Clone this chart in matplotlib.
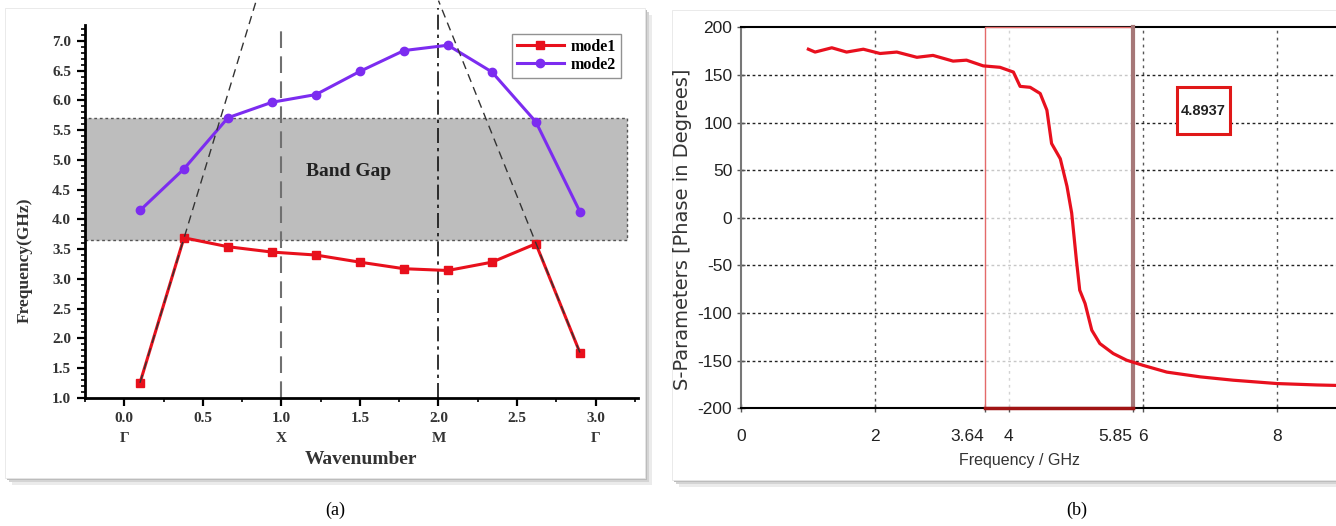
import numpy as np
import matplotlib
matplotlib.use('Agg')
import matplotlib.pyplot as plt
from matplotlib.patches import Rectangle
from matplotlib.ticker import MultipleLocator

# panel (a): dispersion diagram
wavenumber = [0.10, 0.38, 0.66, 0.94, 1.22, 1.50, 1.78, 2.06, 2.34, 2.62, 2.90]
mode1 = [1.25, 3.69, 3.54, 3.45, 3.40, 3.28, 3.17, 3.14, 3.28, 3.59, 1.76]
mode2 = [4.15, 4.85, 5.71, 5.97, 6.10, 6.49, 6.84, 6.93, 6.48, 5.64, 4.13]
gap_low, gap_high = 3.66, 5.71
k_ticks = [0.0, 0.5, 1.0, 1.5, 2.0, 2.5, 3.0]
k_labels = ['0.0\nΓ', '0.5', '1.0\nX', '1.5', '2.0\nM', '2.5', '3.0\nΓ']
f_ticks = [1.0, 1.5, 2.0, 2.5, 3.0, 3.5, 4.0, 4.5, 5.0, 5.5, 6.0, 6.5, 7.0]
light_left_x = [0.10, 0.84]
light_left_y = [1.25, 7.68]
light_right_x = [2.90, 2.00]
light_right_y = [1.76, 7.68]

# panel (b): S-parameter phase
freq = [1.01, 1.11, 1.36, 1.58, 1.83, 2.08, 2.33, 2.63, 2.87, 3.17, 3.37, 3.62,
        3.87, 4.07, 4.17, 4.32, 4.47, 4.57, 4.64, 4.77, 4.87, 4.94, 5.01, 5.06,
        5.14, 5.24, 5.36, 5.56, 5.76, 6.01, 6.36, 6.86, 7.35, 8.00, 8.60, 8.90]
phase = [177, 174, 178.5, 174, 177, 172.5, 174, 168.5, 170.5, 164.5, 165.5, 159.5,
         158, 153, 138, 137, 130.5, 113, 78, 62, 33, 5, -44, -76,
         -90, -118, -132, -142.5, -149.5, -155, -162, -167, -170.5, -174, -175.5, -176]
marker_lo, marker_hi = 3.64, 5.85
b_xticks = [0, 2, 3.64, 4, 5.85, 6, 8]
b_xlabels = ['0', '2', '3.64', '4', '5.85', '6', '8']
b_yticks = [-200, -150, -100, -50, 0, 50, 100, 150, 200]
grid_x = [2, 4, 6, 8]
grid_y = [-150, -100, -50, 0, 50, 100, 150]
marker_text = '4.8937'

W, H = 1336, 526
SERIF = ['Liberation Serif', 'DejaVu Serif']
SANS = ['Liberation Sans', 'DejaVu Sans']

fig = plt.figure(figsize=(W / 100, H / 100), dpi=100)
fig.patch.set_facecolor('white')


def panel_box(x0, y0, x1, y1):
    # white card with a soft drop shadow, pixel coords from top-left
    for off, col in [(7, '#ebebeb'), (4, '#d4d4d4'), (2, '#bcbcbc')]:
        fig.add_artist(Rectangle(((x0 + off) / W, 1 - (y1 + off) / H), (x1 - x0) / W, (y1 - y0) / H,
                                 transform=fig.transFigure, facecolor=col, edgecolor='none', zorder=-3))
    fig.add_artist(Rectangle((x0 / W, 1 - y1 / H), (x1 - x0) / W, (y1 - y0) / H,
                             transform=fig.transFigure, facecolor='white', edgecolor='#e6e6e6',
                             lw=0.6, zorder=-2))


panel_box(5, 8, 645, 478)
panel_box(672, 10, 1340, 480)

# ---- panel (a)
ax1 = fig.add_axes([85 / W, 1 - 397.7 / H, (638 - 85) / W, (397.7 - 25) / H])
ax1.patch.set_alpha(0)
ax1.set_xlim(-0.25, 3.27)
ax1.set_ylim(1.0, 7.27)

ax1.add_patch(Rectangle((-0.25, gap_low), 3.45, gap_high - gap_low, facecolor='#bdbdbd',
                        edgecolor='#555555', linestyle=(0, (2, 2)), lw=1.0, zorder=0.5))
ax1.text(1.43, 4.81, 'Band Gap', ha='center', va='center', family=SERIF,
         fontweight='bold', fontsize=14, color='#222222')

# symmetry point markers and light lines
ax1.plot([1.0, 1.0], [1.0, 7.23], color='#707070', lw=1.5, dashes=(8, 4), zorder=1)
ax1.plot([2.0, 2.0], [1.0, 7.55], color='#111111', lw=1.2, dashes=(9, 3, 2, 3), zorder=1,
         clip_on=False)
ax1.plot(light_left_x, light_left_y, color='#333333', lw=1.0, dashes=(6, 4), zorder=4,
         clip_on=False)
ax1.plot(light_right_x, light_right_y, color='#333333', lw=1.0, dashes=(6, 4), zorder=4,
         clip_on=False)

ax1.plot(wavenumber, mode1, color='#e8101c', lw=2.2, marker='s', markersize=6,
         label='mode1', zorder=3)
ax1.plot(wavenumber, mode2, color='#7c2cf0', lw=2.2, marker='o', markersize=6,
         label='mode2', zorder=3)

leg = ax1.legend(loc='upper right', bbox_to_anchor=(0.975, 0.985), frameon=True, fancybox=False,
                 edgecolor='#777777', handlelength=3.0, borderpad=0.3, labelspacing=0.15,
                 handletextpad=0.4, borderaxespad=0.2,
                 prop={'family': SERIF, 'weight': 'bold', 'size': 11.5})
leg.get_frame().set_linewidth(1.0)

ax1.set_xticks(k_ticks)
ax1.set_xticklabels(k_labels)
ax1.set_yticks(f_ticks)
ax1.set_yticklabels(['%.1f' % v for v in f_ticks])
ax1.xaxis.set_minor_locator(MultipleLocator(0.25))
ax1.yaxis.set_minor_locator(MultipleLocator(0.1))
ax1.tick_params(which='major', direction='out', length=6, width=1.6, pad=4)
ax1.tick_params(which='minor', direction='out', length=3, width=1.2)
for lbl in ax1.get_xticklabels() + ax1.get_yticklabels():
    lbl.set_family(SERIF)
    lbl.set_fontweight('bold')
    lbl.set_fontsize(11)
    lbl.set_color('#333333')
for lbl in ax1.get_xticklabels():
    lbl.set_linespacing(1.75)
for side in ['top', 'right']:
    ax1.spines[side].set_visible(False)
for side in ['left', 'bottom']:
    ax1.spines[side].set_linewidth(2.0)

ax1.set_xlabel('Wavenumber', family=SERIF, fontweight='bold', fontsize=14, color='#333333')
ax1.xaxis.set_label_coords(0.499, -0.143)
ax1.set_ylabel('Frequency(GHz)', family=SERIF, fontweight='bold', fontsize=12.5, color='#333333')
ax1.yaxis.set_label_coords(-0.094, 0.37)

# ---- panel (b)
ax2 = fig.add_axes([740.7 / W, 1 - 408.3 / H, (W - 740.7) / W, (408.3 - 27.3) / H])
ax2.patch.set_alpha(0)
ax2.set_xlim(0, (W - 740.7) / 67.0)
ax2.set_ylim(-200, 200)

for gx in grid_x:
    ax2.axvline(gx, color='#555555', lw=1.0, dashes=(2, 3), zorder=1)
for gy in grid_y:
    ax2.axhline(gy, color='#222222', lw=1.0, dashes=(2, 2), zorder=1)

# marker region between the two frequency markers
ax2.add_patch(Rectangle((marker_lo, -200), marker_hi - marker_lo, 400, facecolor='white',
                        alpha=0.75, edgecolor='none', zorder=2))
ax2.add_patch(Rectangle((marker_lo, -200), marker_hi - marker_lo, 400, facecolor='none',
                        edgecolor='#e46a6a', lw=1.0, zorder=2.7, clip_on=False))
ax2.plot([marker_hi, marker_hi], [-200, 200], color='#a67878', lw=3, zorder=3, clip_on=False)
ax2.plot([marker_lo, marker_hi], [-200, -200], color='#a01414', lw=2.5, zorder=3.5,
         clip_on=False)

ax2.plot(freq, phase, color='#e8101e', lw=2.3, zorder=4, solid_joinstyle='round')

ax2.add_patch(Rectangle((6.51, 88), 0.79, 49, facecolor='white', edgecolor='#e01818',
                        lw=2.2, zorder=5))
ax2.text(6.905, 112.5, marker_text, ha='center', va='center', family=SANS,
         fontweight='bold', fontsize=10.5, color='#222222', zorder=6)

ax2.set_xticks(b_xticks)
ax2.set_xticklabels(b_xlabels)
ax2.set_yticks(b_yticks)
ax2.set_yticklabels([str(v) for v in b_yticks])
ax2.tick_params(axis='both', direction='inout', length=6, width=1.0, colors='#555555',
                labelcolor='#222222', labelsize=12.5)
ax2.tick_params(axis='x', pad=12)
ax2.tick_params(axis='y', pad=3)
for lbl in ax2.get_xticklabels() + ax2.get_yticklabels():
    lbl.set_family(SANS)
ax2.get_xticklabels()[2].set_horizontalalignment('right')
ax2.get_xticklabels()[4].set_horizontalalignment('right')
ax2.spines['right'].set_visible(False)
ax2.spines['left'].set_color('#777777')
ax2.spines['left'].set_linewidth(1.5)
ax2.spines['top'].set_linewidth(1.5)
ax2.spines['bottom'].set_linewidth(1.5)

ax2.set_xlabel('Frequency / GHz', family=SANS, fontsize=11.5, color='#333333')
ax2.xaxis.set_label_coords(0.469, -0.118)
ax2.set_ylabel('S-Parameters [Phase in Degrees]', family='DejaVu Sans', fontsize=14,
               color='#333333')
ax2.yaxis.set_label_coords(-0.082, 0.47)

# captions
fig.text(335 / W, 1 - 510 / H, '(a)', ha='center', va='center', family=SERIF, fontsize=13)
fig.text(1077 / W, 1 - 510 / H, '(b)', ha='center', va='center', family=SERIF, fontsize=13)

fig.savefig('out.png', dpi=100)
